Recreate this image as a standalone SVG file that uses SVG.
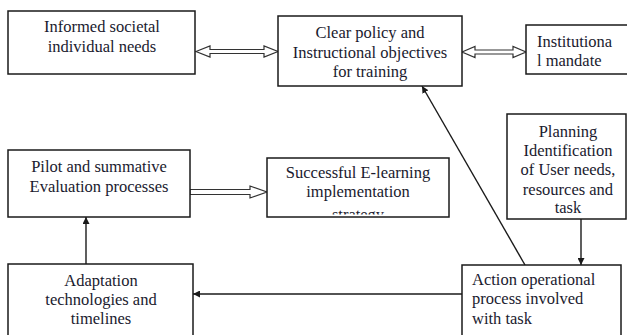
<svg xmlns="http://www.w3.org/2000/svg" width="627" height="335" viewBox="0 0 627 335">
  <style>
    .box { fill: #ffffff; stroke: #1a1a1a; stroke-width: 1.5; }
    .lbl { font-family: 'Times New Roman', Tinos, 'Liberation Serif', 'Noto Serif', 'DejaVu Serif', serif; font-size: 16.5px; fill: #1a1a2e; }
    .mid { text-anchor: middle; }
    .line { fill: none; stroke: #1a1a1a; stroke-width: 1.4; }
    .hollow { fill: #ffffff; stroke: #333333; stroke-width: 1.2; stroke-linejoin: miter; }
  </style>
  <defs>
    <marker id="head" viewBox="0 0 10 10" refX="10" refY="5" markerWidth="7" markerHeight="7" markerUnits="userSpaceOnUse" orient="auto">
      <path d="M0,0 L10,5 L0,10 z" fill="#1a1a1a"/>
    </marker>
    <clipPath id="clipSuccess">
      <rect x="267" y="158" width="182" height="56.5"/>
    </clipPath>
  </defs>

  <rect width="627" height="335" fill="#ffffff"/>

  <g id="connectors">
    <!-- two-way hollow arrows on the top row -->
    <polygon class="hollow" points="196,51.5 210,46 210,49.5 264,49.5 264,46 278,51.5 264,57 264,53.5 210,53.5 210,57"/>
    <polygon class="hollow" points="462,52 475,46.5 475,50 513,50 513,46.5 526,52 513,57.5 513,54 475,54 475,57.5"/>
    <!-- one-way hollow arrow to the outcome box -->
    <polygon class="hollow" points="190,189.5 250,189.5 250,186 267,192 250,198 250,194.5 190,194.5"/>
    <!-- solid arrows -->
    <line class="line" x1="581" y1="219" x2="581" y2="265" marker-end="url(#head)"/>
    <line class="line" x1="462" y1="294" x2="193" y2="294" marker-end="url(#head)"/>
    <line class="line" x1="86" y1="264" x2="86" y2="217" marker-end="url(#head)"/>
    <line class="line" x1="525" y1="265" x2="422" y2="86" marker-end="url(#head)"/>
  </g>

  <g id="informed-needs">
    <rect class="box" x="8" y="11" width="187" height="63"/>
    <text class="lbl mid" x="102" y="32">Informed societal</text>
    <text class="lbl mid" x="102" y="52">individual needs</text>
  </g>

  <g id="clear-policy">
    <rect class="box" x="278" y="16" width="184" height="70"/>
    <text class="lbl mid" x="370" y="37.5">Clear policy and</text>
    <text class="lbl mid" x="370" y="57.5">Instructional objectives</text>
    <text class="lbl mid" x="370" y="77">for training</text>
  </g>

  <g id="institutional-mandate">
    <rect class="box" x="526" y="25" width="110" height="49"/>
    <text class="lbl" x="537" y="47">Institutiona</text>
    <text class="lbl" x="537" y="66">l mandate</text>
  </g>

  <g id="pilot-evaluation">
    <rect class="box" x="8" y="150" width="182" height="67"/>
    <text class="lbl mid" x="99" y="172">Pilot and summative</text>
    <text class="lbl mid" x="99" y="192">Evaluation processes</text>
  </g>

  <g id="successful-elearning">
    <rect class="box" x="267" y="158" width="182" height="59"/>
    <g clip-path="url(#clipSuccess)">
      <text class="lbl mid" x="358" y="178">Successful E-learning</text>
      <text class="lbl mid" x="358" y="197">implementation</text>
      <text class="lbl mid" x="358" y="220">strategy</text>
    </g>
  </g>

  <g id="planning">
    <rect class="box" x="507" y="114" width="119" height="105"/>
    <text class="lbl mid" x="568" y="137">Planning</text>
    <text class="lbl mid" x="568" y="156">Identification</text>
    <text class="lbl mid" x="568" y="175">of User needs,</text>
    <text class="lbl mid" x="568" y="195">resources and</text>
    <text class="lbl mid" x="568" y="213">task</text>
  </g>

  <g id="action-process">
    <rect class="box" x="462" y="265" width="159" height="80"/>
    <text class="lbl" x="472" y="285">Action operational</text>
    <text class="lbl" x="472" y="304">process involved</text>
    <text class="lbl" x="472" y="324">with task</text>
  </g>

  <g id="adaptation">
    <rect class="box" x="8" y="264" width="185" height="81"/>
    <text class="lbl mid" x="101" y="285.5">Adaptation</text>
    <text class="lbl mid" x="101" y="304.5">technologies and</text>
    <text class="lbl mid" x="101" y="323.5">timelines</text>
  </g>
</svg>
